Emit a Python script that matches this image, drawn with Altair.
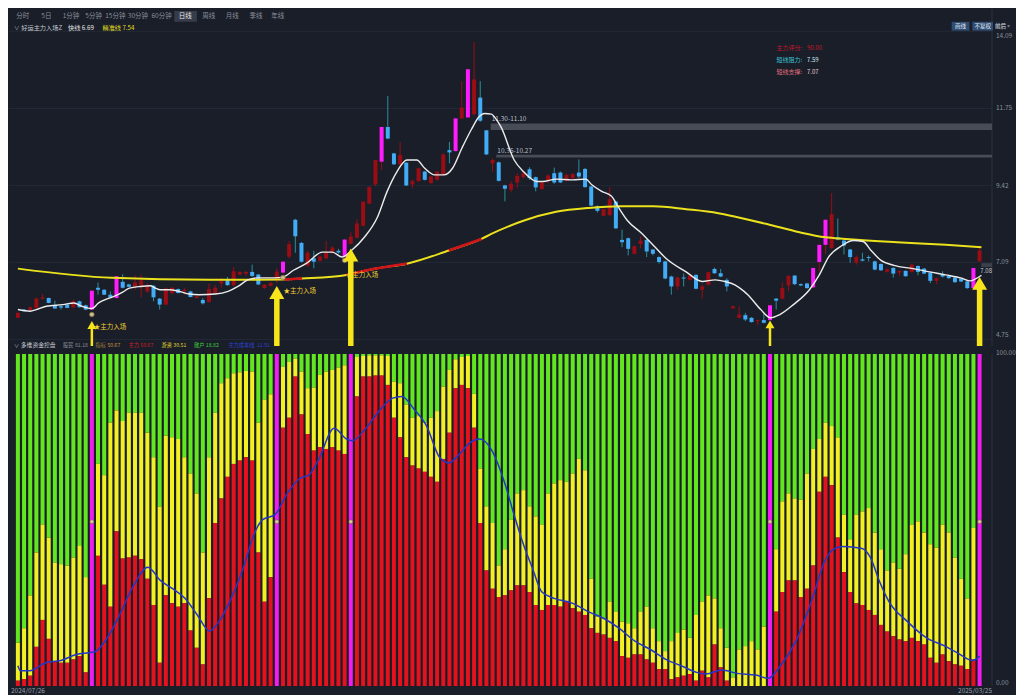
import altair as alt
import pandas as pd

FONT = "Noto Sans CJK SC"
BG = "#191e29"

# ---------------- top panel: daily candles, index 0..156 ----------------
opens = [
    5.41, 5.66, 5.63, 5.71, 5.99, 6.01, 5.79, 5.76, 5.81, 5.73,
    5.91, 5.79, 5.66, 6.32, 6.26, 6.11, 6.01, 6.50, 6.42, 6.35,
    6.38, 6.21, 6.38, 5.99, 5.81, 6.16, 6.28, 6.21, 6.21, 6.01,
    5.95, 5.89, 6.16, 6.45, 6.55, 6.40, 6.72, 6.75, 6.80, 6.72,
    6.31, 6.38, 6.56, 6.78, 7.26, 8.38, 7.68, 6.99, 7.21, 7.14,
    7.21, 7.38, 7.44, 7.26, 7.65, 7.84, 8.20, 8.87, 9.45, 10.14,
    11.19, 10.39, 10.06, 10.11, 9.45, 9.55, 9.84, 9.49, 9.59, 9.74,
    10.49, 10.46, 11.45, 11.48, 11.58, 12.08, 11.09, 10.09, 10.12, 9.42,
    9.29, 9.51, 9.67, 9.91, 9.67, 9.31, 9.57, 9.79, 9.81, 9.57,
    9.64, 9.81, 9.92, 9.39, 8.79, 8.50, 8.52, 8.93, 7.77, 7.82,
    7.35, 7.65, 7.77, 7.48, 7.25, 7.12, 6.66, 6.36, 6.63, 6.56,
    6.71, 6.26, 6.41, 6.89, 6.76, 6.56, 5.70, 5.41, 5.49, 5.41,
    5.31, 5.34, 5.34, 5.99, 5.99, 6.39, 6.69, 6.43, 6.45, 6.33,
    7.10, 7.62, 7.52, 7.85, 7.75, 7.48, 7.08, 7.18, 7.25, 7.12,
    7.04, 6.80, 6.92, 6.78, 6.83, 6.80, 6.98, 6.90, 6.78, 6.53,
    6.72, 6.68, 6.63, 6.59, 6.51, 6.31, 7.12,
]
highs = [
    5.58, 5.67, 5.75, 6.03, 6.13, 6.02, 5.93, 5.83, 5.83, 5.96,
    5.93, 5.81, 6.25, 6.48, 6.27, 6.21, 6.68, 6.73, 6.44, 6.70,
    6.72, 6.45, 6.40, 6.01, 6.32, 6.35, 6.30, 6.32, 6.23, 6.08,
    6.01, 6.45, 6.40, 6.62, 6.65, 6.95, 6.82, 6.83, 7.02, 6.74,
    6.43, 6.50, 6.91, 7.13, 7.74, 8.41, 7.70, 7.44, 7.44, 7.30,
    7.74, 7.58, 7.50, 7.80, 8.00, 8.40, 8.94, 9.40, 10.20, 11.20,
    12.13, 10.41, 10.74, 10.12, 9.60, 9.96, 9.86, 9.71, 9.86, 10.40,
    10.74, 11.47, 12.58, 12.96, 13.77, 12.58, 11.10, 10.24, 10.14, 9.44,
    9.54, 9.79, 9.84, 9.97, 9.69, 9.53, 9.76, 9.96, 9.84, 9.78,
    9.80, 10.21, 9.95, 9.41, 8.82, 8.72, 9.37, 8.95, 8.08, 7.84,
    7.60, 7.88, 7.80, 7.50, 7.27, 7.14, 6.69, 6.66, 6.75, 6.74,
    6.73, 6.41, 6.81, 6.93, 6.89, 6.61, 5.78, 5.76, 5.56, 5.43,
    5.35, 5.53, 5.80, 6.01, 6.49, 6.70, 6.70, 6.45, 6.47, 6.93,
    7.63, 8.39, 9.19, 8.42, 7.77, 7.50, 7.30, 7.38, 7.30, 7.14,
    7.06, 6.90, 6.95, 6.85, 6.85, 7.04, 7.00, 6.92, 6.80, 6.63,
    6.82, 6.70, 6.65, 6.61, 6.53, 6.93, 7.58,
]
lows = [
    5.40, 5.60, 5.62, 5.69, 5.96, 5.85, 5.69, 5.66, 5.70, 5.69,
    5.72, 5.64, 5.64, 6.11, 6.10, 6.01, 5.99, 6.30, 6.34, 6.26,
    6.03, 6.16, 5.91, 5.66, 5.79, 6.11, 6.15, 6.11, 6.03, 6.00,
    5.81, 5.86, 6.11, 6.32, 6.38, 6.35, 6.70, 6.68, 6.65, 6.40,
    6.29, 6.36, 6.46, 6.76, 7.21, 7.38, 7.09, 6.96, 6.91, 7.10,
    7.18, 7.35, 7.35, 7.20, 7.64, 7.81, 8.18, 8.85, 9.40, 9.89,
    10.82, 10.04, 10.04, 9.40, 9.33, 9.53, 9.57, 9.47, 9.57, 9.72,
    10.09, 10.44, 11.43, 11.46, 11.53, 11.35, 10.34, 9.84, 9.54, 8.94,
    9.21, 9.34, 9.63, 9.59, 9.24, 9.29, 9.48, 9.47, 9.49, 9.54,
    9.62, 9.64, 9.35, 8.79, 8.60, 8.48, 8.50, 8.10, 7.55, 7.30,
    7.33, 7.52, 7.25, 7.30, 7.05, 6.58, 6.11, 6.26, 6.36, 6.54,
    6.27, 5.99, 6.39, 6.74, 6.64, 6.21, 5.68, 5.39, 5.31, 5.27,
    5.19, 5.24, 5.33, 5.66, 5.97, 6.21, 6.40, 6.37, 6.29, 6.31,
    6.82, 7.35, 7.50, 7.76, 7.33, 7.08, 7.02, 7.12, 7.12, 6.85,
    6.83, 6.78, 6.63, 6.66, 6.65, 6.78, 6.70, 6.73, 6.46, 6.43,
    6.63, 6.59, 6.47, 6.49, 6.29, 6.29, 7.10,
]
closes = [
    5.56, 5.61, 5.73, 5.99, 6.03, 5.86, 5.69, 5.72, 5.71, 5.91,
    5.73, 5.66, 6.23, 6.26, 6.11, 6.03, 6.67, 6.32, 6.35, 6.48,
    6.55, 6.37, 6.03, 5.81, 6.30, 6.32, 6.16, 6.26, 6.04, 6.06,
    5.85, 6.28, 6.32, 6.52, 6.40, 6.82, 6.80, 6.80, 6.68, 6.42,
    6.41, 6.46, 6.81, 7.11, 7.64, 7.88, 7.11, 7.38, 7.11, 7.26,
    7.38, 7.54, 7.39, 7.78, 7.87, 8.27, 8.93, 9.37, 10.19, 11.19,
    10.84, 10.06, 10.34, 9.42, 9.55, 9.94, 9.59, 9.69, 9.84, 10.36,
    10.42, 11.45, 11.78, 12.94, 12.63, 11.38, 10.36, 10.19, 9.56, 9.32,
    9.47, 9.71, 9.79, 9.64, 9.36, 9.51, 9.72, 9.51, 9.51, 9.74,
    9.77, 9.69, 9.37, 8.81, 8.65, 8.70, 9.00, 8.12, 7.70, 7.50,
    7.58, 7.75, 7.42, 7.35, 7.10, 6.60, 6.36, 6.63, 6.60, 6.69,
    6.29, 6.36, 6.79, 6.76, 6.66, 6.36, 5.76, 5.51, 5.36, 5.28,
    5.34, 5.26, 5.79, 5.93, 6.31, 6.68, 6.43, 6.39, 6.31, 6.92,
    7.62, 8.38, 8.55, 7.78, 7.60, 7.25, 7.25, 7.14, 7.22, 6.87,
    6.85, 6.88, 6.75, 6.83, 6.67, 7.02, 6.80, 6.75, 6.53, 6.61,
    6.66, 6.61, 6.49, 6.51, 6.31, 6.92, 7.45,
]
main_force_candles = [12, 16, 43, 53, 59, 71, 73, 122, 129, 130, 131, 155]

# 快线 (white)
fast_x = [0, 2, 3, 4.6, 7.3, 9.1, 10.4, 12, 13.1, 14.6, 15.6, 17, 18.1, 19.9, 21.5, 22.3,
          23.1, 24.6, 26.2, 27.8, 29.4, 32, 34.1, 35.7, 37.3, 38.9, 41.5, 43.1, 44.7,
          46.8, 49.4, 51, 52.6, 54.1, 56.2, 58.3, 59.9, 61.5, 63.1, 64.7, 66, 67.6, 69.1,
          70.5, 72, 73.6, 74.8, 75.7, 76.8, 77.6, 78.4, 80.5, 82, 84.2, 85.1, 87.3, 89.9,
          92.1, 93.1, 94.7, 96.3, 97.3, 98.9, 101, 103.1, 105.2, 108.4, 111, 113.1, 114.7,
          116.3, 117.8, 118.4, 120.5, 122.1, 123.6, 125.8, 128.4, 130, 131.5, 133.7,
          135.5, 137.1, 138.4, 140, 142.1, 145.2, 147.9, 150.5, 153.1, 154.4, 156.3]
fast_y = [5.66, 5.61, 5.66, 5.76, 5.81, 5.86, 5.76, 5.69, 5.86, 5.99, 6.06, 6.19, 6.31, 6.36,
          6.38, 6.31, 6.26, 6.26, 6.21, 6.13, 6.11, 6.13, 6.21, 6.36, 6.56, 6.62, 6.62, 6.65,
          6.85, 7.06, 7.40, 7.40, 7.25, 7.45, 7.85, 8.45, 9.24, 9.84, 10.19, 10.19, 9.94,
          9.74, 9.74, 9.94, 10.54, 11.13, 11.50, 11.60, 11.58, 11.42, 11.18, 10.19, 9.84,
          9.54, 9.54, 9.61, 9.59, 9.61, 9.44, 9.24, 9.09, 8.79, 8.35, 8.00, 7.60, 7.20,
          6.80, 6.51, 6.56, 6.51, 6.41, 6.21, 6.11, 5.66, 5.41, 5.51, 5.81, 6.26, 6.71,
          7.25, 7.60, 7.75, 7.72, 7.45, 7.15, 7.00, 6.90, 6.80, 6.71, 6.61, 6.53, 6.70]

# 精准线 (yellow, with red stretches)
slow_x = [0, 15.2, 31, 43.1, 46.1, 53.3, 58.3, 63.1, 69.9, 75.2, 76.8, 82, 87.3, 92.6,
          97.8, 103.1, 108.4, 113.6, 117.1, 121.5, 126.8, 131, 134.2, 142.6, 150.5, 156.3]
slow_y = [6.90, 6.62, 6.56, 6.57, 6.60, 6.71, 6.91, 7.05, 7.45, 7.80, 7.95, 8.35, 8.62,
          8.74, 8.79, 8.79, 8.70, 8.58, 8.44, 8.25, 8.00, 7.85, 7.80, 7.70, 7.62, 7.55]
slow_red_ranges = [(43.1, 46.1), (53.3, 63.1), (69.9, 75.2)]

grid_prices = [4.75, 7.09, 9.42, 11.75, 14.09]

big_arrow_idx = [42, 54, 156]
big_arrow_tip = [6.37, 7.51, 6.65]
small_arrow_idx = [12, 122]
small_arrow_tip = [5.31, 5.33]
entry_idx = [12.3, 43.1, 53.2]
entry_y = [5.14, 6.21, 6.72]
coin_idx = [12, 43, 53]
coin_y = [5.51, 6.63, 7.15]

band_start = [76.7, 77.6]
band_hi = [11.30, 10.35]
band_lo = [11.10, 10.27]
band_text = ["11.30-11.10", "10.35-10.27"]

# ---------------- bottom panel: 多维资金控盘 ----------------
red_pct = [
    1.6, 2.1, 3.1, 11.8, 19.9, 14.2, 7.5, 7.0, 7.0, 8.0,
    9.0, 4.1, None, 39.2, 30.5, 23.9, 46.6, 38.4, 38.7, 39.2,
    38.2, 32.3, 24.4, 7.0, 27.3, 24.9, 23.9, 24.9, 16.7, 11.5,
    6.5, 26.4, 49.1, 56.5, 63.0, 66.9, 67.9, 68.9, 67.9, 40.2,
    25.4, 32.8, None, 77.8, 80.8, 93.2, 81.8, 75.9, 70.9, 71.9,
    71.4, 71.9, 70.9, 69.9, None, 87.2, 93.2, 93.2, 93.5, 93.5,
    90.7, 80.8, 74.9, 68.9, 66.4, 65.5, 64.5, 63.0, 61.5, 68.4,
    76.3, 89.7, 90.7, 89.7, 77.8, 49.1, 34.8, 29.3, 26.8, 27.3,
    28.8, 30.3, 30.3, 28.3, 24.4, 22.9, 24.4, 24.4, 23.9, 25.4,
    23.4, 22.4, 21.4, 17.4, 16.0, 15.5, 14.5, 13.5, 9.0, 8.5,
    9.5, 9.5, 8.0, 7.0, 5.1, 5.1, 2.1, 2.6, 3.1, 3.6,
    1.6, 4.6, 2.6, 12.5, 5.6, 1.6, 0.0, 0.0, 0.0, 0.0,
    0.0, 0.0, None, 22.4, 28.3, 31.8, 31.8, 26.8, 29.3, 36.3,
    58.5, 63.0, 60.5, 44.7, 34.3, 28.3, 24.9, 24.4, 22.9, 21.4,
    18.4, 16.4, 15.0, 14.0, 13.5, 14.5, 13.5, 12.5, 8.5, 7.0,
    9.5, 7.5, 6.5, 6.1, 5.1, 8.0, None,
]
yellow_pct = [
    13.0, 17.4, 27.3, 40.2, 48.6, 44.7, 37.2, 36.7, 36.2, 38.7,
    42.2, 32.8, None, 66.9, 63.5, 79.3, 83.0, 79.8, 82.3, 82.3,
    82.3, 76.3, 68.9, 54.1, 75.4, 74.9, 74.4, 68.9, 64.0, 58.0,
    40.2, 68.9, 82.3, 91.2, 92.7, 94.2, 94.5, 94.9, 94.7, 79.3,
    86.2, 87.9, None, 96.1, 97.6, 98.6, 94.7, 89.7, 89.9, 93.7,
    94.7, 95.2, 95.9, 96.6, None, 99.1, 99.4, 99.6, 99.6, 99.6,
    99.4, 91.7, 91.2, 84.8, 80.8, 81.3, 79.3, 80.8, 82.8, 90.2,
    95.2, 98.4, 99.1, 99.4, 88.0, 65.5, 54.1, 49.1, 36.3, 41.2,
    50.1, 58.0, 59.0, 54.1, 51.1, 48.6, 58.0, 61.0, 62.0, 61.5,
    64.0, 68.4, 65.0, 32.3, 20.9, 20.4, 25.4, 22.4, 19.4, 18.9,
    17.4, 22.4, 23.9, 17.4, 13.5, 10.5, 13.5, 16.0, 17.0, 14.5,
    21.4, 25.4, 27.3, 26.4, 17.4, 11.5, 2.6, 11.0, 12.0, 13.5,
    11.0, 17.9, None, 41.2, 55.6, 58.0, 56.5, 56.1, 64.0, 71.4,
    74.4, 79.3, 78.3, 74.9, 51.6, 44.2, 51.6, 52.6, 53.6, 46.2,
    41.2, 34.8, 37.2, 35.3, 39.7, 48.6, 49.6, 46.2, 42.7, 41.7,
    48.6, 46.2, 38.7, 32.3, 26.4, 47.6, None,
]
signal_bars = [12, 42, 54, 122, 156]

# 主力成本线 (blue)
cost_x = [0, 0.4, 1.9, 4.5, 7.0, 9.5, 11.5, 12.5, 14.5, 16.5, 18.5, 21.1, 23.1, 25.1, 27.1,
          29.1, 31.1, 32.6, 34.6, 36.7, 38.2, 39.7, 41.7, 43.7, 45.7, 47.2, 48.7, 51.3,
          53.3, 54.3, 56.3, 58.8, 60.8, 62.3, 64.3, 66.3, 68.4, 69.9, 71.4, 73.4, 74.9,
          76.9, 78.9, 80.4, 81.9, 83.5, 85.0, 87.0, 90.0, 92.5, 95.0, 97.5, 100.1, 102.6,
          105.1, 107.6, 110.1, 111.6, 114.2, 116.7, 119.7, 121.7, 123.7, 126.2, 128.7,
          130.8, 132.3, 133.8, 136.8, 138.3, 139.8, 141.3, 144.3, 147.4, 150.4, 152.4,
          154.9, 156.0]
cost_y = [6.1, 4.6, 4.6, 7.0, 7.7, 9.5, 10.0, 10.3, 14.5, 21.4, 29.3, 35.8, 31.8, 29.3, 26.4,
          21.4, 16.6, 19.4, 26.4, 36.3, 45.2, 50.1, 51.6, 58.0, 62.5, 63.5, 67.9, 77.6,
          74.4, 73.9, 77.3, 83.3, 86.7, 87.2, 83.3, 78.3, 68.9, 67.2, 69.4, 73.4, 74.4,
          70.9, 61.5, 52.1, 43.2, 35.3, 28.3, 26.4, 24.9, 22.4, 20.4, 17.4, 13.5, 11.0,
          8.0, 6.1, 4.1, 3.6, 4.8, 3.8, 3.3, 2.3, 6.1, 13.5, 25.4,
          37.2, 41.2, 42.0, 41.5, 38.7, 31.3, 25.4, 19.4, 14.5, 12.0, 10.0,
          7.7, 9.0]
bottom_coin_y = 49.5

# ---------------- layout ----------------
W, H1, H2, GAP = 983, 337, 332, 8
SX, SY = 0.984, 0.985
BOT = H1 + GAP

xs = alt.Scale(domain=[-0.63, 157.2], nice=False, zero=False)
ys_top = alt.Scale(domain=[4.556, 14.765], nice=False, zero=False)
ys_bot = alt.Scale(domain=[0, 100], nice=False, zero=False)


def X(f="i"):
    return alt.X(f"{f}:Q", scale=xs, axis=None)


def YT(f):
    return alt.Y(f"{f}:Q", scale=ys_top, axis=None)


def YB(f):
    return alt.Y(f"{f}:Q", scale=ys_bot, axis=None)


ONE = pd.DataFrame({"k": [0]})


def label(text, rx, ry, color, size=6.0, align="left", weight="normal", off=0):
    return alt.Chart(ONE).mark_text(
        text=text, color=color, fontSize=size, align=align, baseline="middle",
        font=FONT, fontWeight=weight,
    ).encode(x=alt.value(rx * SX), y=alt.value(ry * SY - off))


def box(rx1, rx2, ry1, ry2, color, off=0):
    return alt.Chart(ONE).mark_rect(color=color).encode(
        x=alt.value(rx1 * SX), x2=alt.value(rx2 * SX),
        y=alt.value(ry1 * SY - off), y2=alt.value(ry2 * SY - off))


n = len(opens)
kind = []
for i in range(n):
    if i in main_force_candles:
        kind.append("m")
    elif closes[i] >= opens[i]:
        kind.append("r")
    else:
        kind.append("b")
candles = pd.DataFrame({"i": list(range(n)), "o": opens, "h": highs, "l": lows,
                        "c": closes, "t": kind})

BODY = {"r": "#9a0d15", "b": "#43acf6", "m": "#ff1cff"}
WICK = {"r": "#9a0d15", "b": "#2a8f9c", "m": "#9a0d15"}

grid = alt.Chart(pd.DataFrame({"p": grid_prices})).mark_rule(
    color="#232936", strokeWidth=1).encode(y=YT("p"))
sep = alt.Chart(ONE).mark_rule(color="#2c323e").encode(
    x=alt.value(W), y=alt.value(0), y2=alt.value(H1))

bands = alt.Chart(pd.DataFrame({"s": band_start, "hi": band_hi, "lo": band_lo})).mark_rect(
    color="#4a4f58", opacity=0.95).encode(x=X("s"), x2=alt.value(W), y=YT("hi"), y2=alt.Y2("lo:Q"))
band_labels = alt.Chart(pd.DataFrame({"s": band_start, "hi": band_hi, "t": band_text})).mark_text(
    align="left", baseline="bottom", fontSize=6.5, font=FONT, color="#b9bdc6", dx=1, dy=-1
).encode(x=X("s"), y=YT("hi"), text="t:N")

candle_layers = []
for k in ["r", "b", "m"]:
    sub = candles[candles["t"] == k]
    candle_layers.append(alt.Chart(sub).mark_rule(strokeWidth=1, color=WICK[k]).encode(
        x=X(), y=YT("l"), y2=alt.Y2("h:Q")))
for k in ["r", "b", "m"]:
    sub = candles[candles["t"] == k]
    candle_layers.append(alt.Chart(sub).mark_bar(size=4, color=BODY[k]).encode(
        x=X(), y=YT("o"), y2=alt.Y2("c:Q")))

slow_df = pd.DataFrame({"x": slow_x, "y": slow_y})
red_rows = []
for k, (a, b) in enumerate(slow_red_ranges):
    for xv, yv in zip(slow_x, slow_y):
        if a - 1e-6 <= xv <= b + 1e-6:
            red_rows.append({"x": xv, "y": yv, "seg": k})
slow_red_df = pd.DataFrame(red_rows)

slow_line = alt.Chart(slow_df).mark_line(color="#ece21c", strokeWidth=2, interpolate="monotone").encode(
    x=X("x"), y=YT("y"))
slow_red_line = alt.Chart(slow_red_df).mark_line(color="#d01419", strokeWidth=2.6, interpolate="monotone").encode(
    x=X("x"), y=YT("y"), detail="seg:N")
fast_line = alt.Chart(pd.DataFrame({"x": fast_x, "y": fast_y})).mark_line(
    color="#ececec", strokeWidth=1.4, interpolate="monotone").encode(x=X("x"), y=YT("y"))

coins = alt.Chart(pd.DataFrame({"x": coin_idx, "y": coin_y})).mark_point(
    shape="circle", filled=True, size=22, color="#cdbb8c", opacity=1, stroke="#7a6a40", strokeWidth=0.6
).encode(x=X("x"), y=YT("y"))

entry_labels = alt.Chart(pd.DataFrame({"x": entry_idx, "y": entry_y})).mark_text(
    text="★主力入场", align="left", baseline="middle", fontSize=6.5, font=FONT, color="#f2cf34"
).encode(x=X("x"), y=YT("y"))

ARROW = "#f6e51b"
big_df = pd.DataFrame({"x": big_arrow_idx, "y": big_arrow_tip})
small_df = pd.DataFrame({"x": small_arrow_idx, "y": small_arrow_tip})
big_shaft = alt.Chart(big_df).mark_rule(color=ARROW, strokeWidth=5.5, yOffset=10).encode(
    x=X("x"), y=YT("y"), y2=alt.value(H1))
big_head = alt.Chart(big_df).mark_point(shape="triangle-up", filled=True, size=225, opacity=1,
                                        color=ARROW, strokeWidth=0, yOffset=6.5).encode(
    x=X("x"), y=YT("y"))
small_shaft = alt.Chart(small_df).mark_rule(color=ARROW, strokeWidth=2.5, yOffset=5).encode(
    x=X("x"), y=YT("y"), y2=alt.value(H1))
small_head = alt.Chart(small_df).mark_point(shape="triangle-up", filled=True, size=81, opacity=1,
                                            color=ARROW, strokeWidth=0, yOffset=3.9).encode(
    x=X("x"), y=YT("y"))

# header & texts (reference pixel positions)
toolbar = ["分时", "5日", "1分钟", "5分钟", "15分钟", "30分钟", "60分钟", "日线", "周线", "月线", "季线", "年线"]
toolbar_cx = [14, 38, 63, 86, 108, 131, 155, 179, 203, 227, 251, 273]
texts = [box(168, 191, 2, 13, "#363c49")]
for t, px in zip(toolbar, toolbar_cx):
    texts.append(label(t, px, 7.5, "#e8e8ea" if t == "日线" else "#8b909b", size=6.5, align="center"))

texts += [
    label("∨", 5, 19, "#aeb3bc", 5.5),
    label("好运主力入场Z", 12.5, 19, "#c9cdd5", 6.2),
    label("快线 6.69", 60, 19, "#e6e6e6", 6.2),
    label("精准线 7.54", 95, 19, "#e6df22", 6.2),
    box(958, 976, 13, 22, "#2f4d73"),
    box(979, 1000, 13, 22, "#2f4d73"),
    label("画线", 967, 17.5, "#e6edf7", 5.5, "center"),
    label("不复权", 989.5, 17.5, "#e6edf7", 5.5, "center"),
    label("前后 «", 1002, 17.5, "#e6edf7", 5.5),
    label("主力评分:", 780, 40, "#c4192b", 6),
    label("90.00", 811, 40, "#c4192b", 6),
    label("短线阻力:", 780, 51.5, "#3ec4d4", 6),
    label("7.59", 811, 51.5, "#d6eef2", 6),
    label("短线支撑:", 780, 63.5, "#e0707f", 6),
    label("7.07", 811, 63.5, "#ecd0d4", 6),
    label("14.09", 1003, 27, "#8c919b", 6.5),
    label("11.75", 1003, 101, "#8c919b", 6.5),
    label("9.42", 1003, 179.5, "#8c919b", 6.5),
    label("7.09", 1003, 257, "#8c919b", 6.5),
    label("4.75", 1003, 331, "#8c919b", 6.5),
    box(988, 999, 258, 262, "#3b404a"),
    label("7.08", 999, 265.5, "#c8ccd4", 6, "right"),
    label("∨", 5, 341, "#aeb3bc", 5),
    label("多维资金控盘", 12, 341, "#c9cdd5", 5.8),
    label("股民", 55, 341, "#8b909b", 5.2),
    label("81.18", 67, 341, "#8b909b", 5.2),
    label("指标", 88, 341, "#a8843a", 5.2),
    label("50.67", 100, 341, "#c99a3e", 5.2),
    label("主力", 121.5, 341, "#cf1f28", 5.2),
    label("50.67", 133.5, 341, "#cf1f28", 5.2),
    label("游资", 155, 341, "#e3dc2c", 5.2),
    label("30.51", 167, 341, "#e3dc2c", 5.2),
    label("散户", 188, 341, "#3fcf3a", 5.2),
    label("18.82", 200, 341, "#3fcf3a", 5.2),
    label("主力成本线", 223, 341, "#2f40d2", 5.2),
    label("11.91", 252, 341, "#2f40d2", 5.2),
]

top = alt.layer(
    grid, sep, bands, band_labels, *candle_layers, slow_line, slow_red_line, fast_line,
    coins, entry_labels, big_shaft, big_head, small_shaft, small_head, *texts
).properties(width=W, height=H1)

# bottom panel bars
seg_rows = {"r": [], "y": [], "g": [], "m": []}
for i in range(n):
    if i in signal_bars or red_pct[i] is None:
        seg_rows["m"].append({"i": i, "a": 0, "b": 100})
        continue
    r = red_pct[i]
    yv = max(yellow_pct[i], r)
    if r > 0:
        seg_rows["r"].append({"i": i, "a": 0, "b": r})
    seg_rows["y"].append({"i": i, "a": r, "b": yv})
    seg_rows["g"].append({"i": i, "a": yv, "b": 100})
SEG = {"r": "#e3121d", "y": "#f2ef23", "g": "#62e61f", "m": "#f01cf0"}
bar_layers = [
    alt.Chart(pd.DataFrame(seg_rows[k])).mark_bar(size=4, color=SEG[k]).encode(
        x=X(), y=YB("a"), y2=alt.Y2("b:Q"))
    for k in ["g", "y", "r", "m"]
]
cost_line = alt.Chart(pd.DataFrame({"x": cost_x, "y": cost_y})).mark_line(
    color="#2336c8", strokeWidth=1.5, interpolate="monotone").encode(x=X("x"), y=YB("y"))
bcoins = alt.Chart(pd.DataFrame({"x": signal_bars, "y": [bottom_coin_y] * len(signal_bars)})).mark_point(
    shape="circle", filled=True, size=16, color="#d9c79a", opacity=1, stroke="#6b5a30", strokeWidth=0.5
).encode(x=X("x"), y=YB("y"))
sep2 = alt.Chart(ONE).mark_rule(color="#2c323e").encode(
    x=alt.value(W), y=alt.value(0), y2=alt.value(H2))
btexts = [
    label("100.00", 1003, 349, "#8c919b", 6.5, off=BOT),
    label("0.00", 1003, 684, "#8c919b", 6.5, off=BOT),
    label("2024/07/26", 2, 692, "#9aa0aa", 6.5, off=BOT),
    label("2025/03/25", 999, 692, "#9aa0aa", 6.5, "right", off=BOT),
]
bottom = alt.layer(*bar_layers, cost_line, bcoins, sep2, *btexts).properties(width=W, height=H2)

chart = alt.vconcat(top, bottom, spacing=GAP, bounds="flush").properties(
    padding={"left": 0, "top": 0, "right": 0, "bottom": 0}
).configure(background=BG, font=FONT).configure_view(stroke=None)

chart.save("out.html", embed_options={"renderer": "svg", "actions": False})
